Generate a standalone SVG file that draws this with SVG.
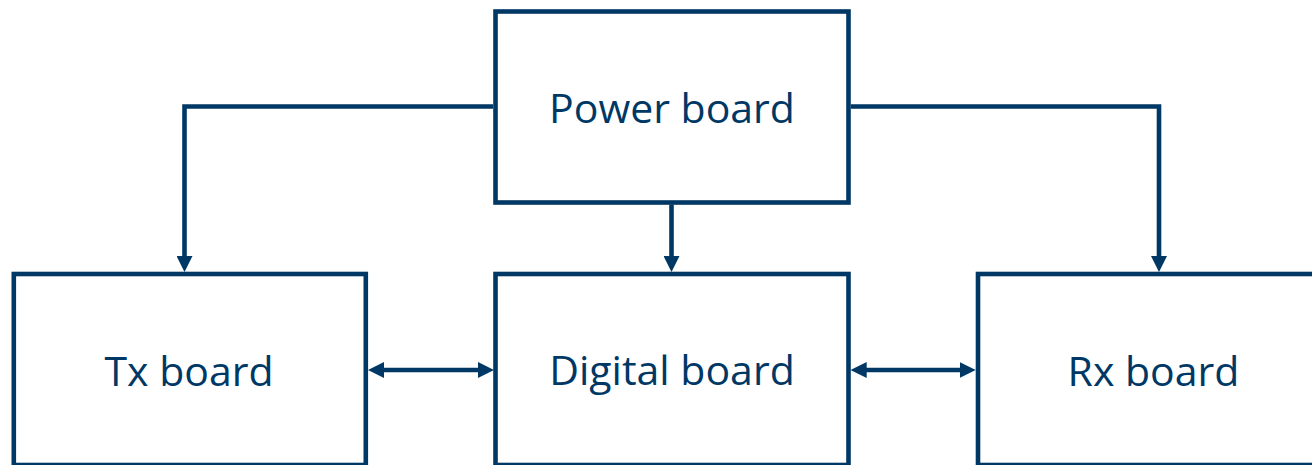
<svg xmlns="http://www.w3.org/2000/svg" width="1312" height="465" viewBox="0 0 1312 465">
  <style>
    .box { fill: #ffffff; stroke: #003865; stroke-width: 4.6; stroke-linejoin: miter; }
    .lbl { font-family: "Open Sans", "Noto Sans", "Liberation Sans", sans-serif; font-size: 41px; fill: #003865; text-anchor: middle; }
    .conn { fill: none; stroke: #003865; stroke-width: 4.6; stroke-linejoin: miter; stroke-linecap: butt; }
  </style>
  <defs>
    <marker id="arr" markerUnits="userSpaceOnUse" markerWidth="16" markerHeight="16" viewBox="0 0 16 16" refX="4" refY="8" orient="auto-start-reverse">
      <path d="M0,0 L16,8 L0,16 Z" fill="#003865"/>
    </marker>
  </defs>
  <rect width="1312" height="465" fill="#ffffff"/>
  <g id="power">
    <rect class="box" x="495.5" y="11.5" width="353" height="191"/>
    <text class="lbl" x="672" y="123">Power board</text>
  </g>
  <g id="tx">
    <rect class="box" x="13.8" y="274" width="352" height="191"/>
    <text class="lbl" x="189" y="386">Tx board</text>
  </g>
  <g id="digital">
    <rect class="box" x="495.5" y="274" width="353" height="191"/>
    <text class="lbl" x="672" y="385">Digital board</text>
  </g>
  <g id="rx">
    <rect class="box" x="978" y="274" width="353" height="191"/>
    <text class="lbl" x="1153.5" y="386">Rx board</text>
  </g>
  <g id="connectors">
    <path class="conn" d="M493,106.5 H184.5 V260" marker-end="url(#arr)"/>
    <path class="conn" d="M671.5,204.5 V260" marker-end="url(#arr)"/>
    <path class="conn" d="M850.7,106.5 H1159 V260" marker-end="url(#arr)"/>
    <path class="conn" d="M380,370 H482" marker-start="url(#arr)" marker-end="url(#arr)"/>
    <path class="conn" d="M862.7,370 H963.7" marker-start="url(#arr)" marker-end="url(#arr)"/>
  </g>
</svg>
